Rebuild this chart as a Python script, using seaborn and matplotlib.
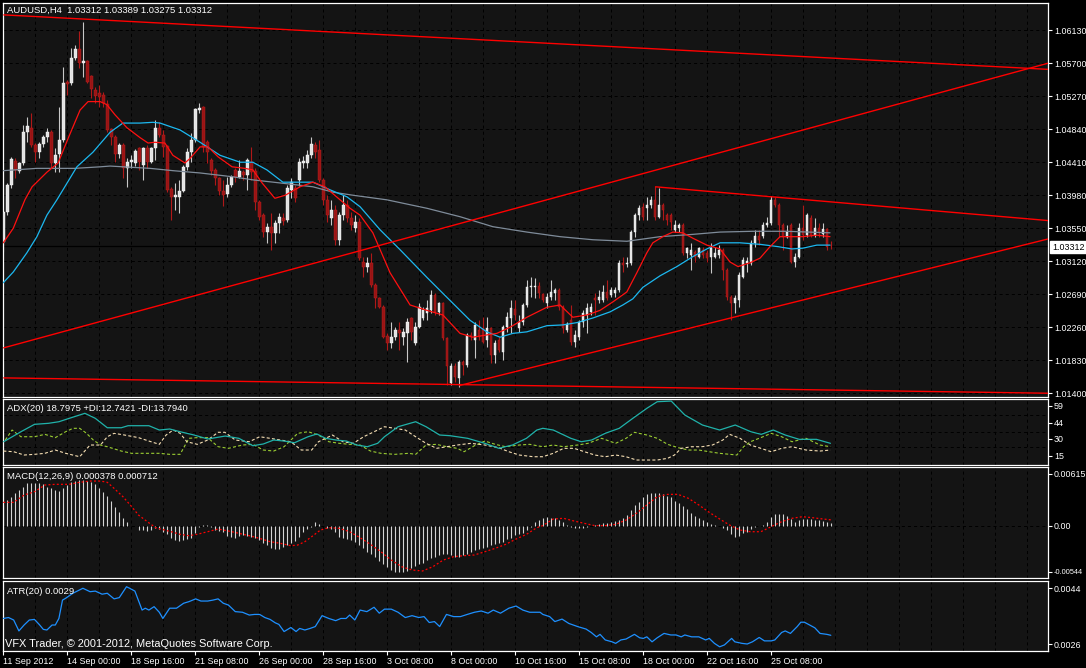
import numpy as np
import matplotlib
matplotlib.use("Agg")
import matplotlib.pyplot as plt
import seaborn as sns

# ── Data (bar 0 = 11 Sep 2012 08:00) ─────────────────────────────────────────
opens = [
    1.0337, 1.0376, 1.0411, 1.0443, 1.0430, 1.0440, 1.0480, 1.0486, 1.0463, 1.0454,
    1.0465, 1.0474, 1.0480, 1.0440, 1.0452, 1.0470, 1.0546, 1.0544, 1.0577, 1.0589,
    1.0570, 1.0573, 1.0553, 1.0535, 1.0531, 1.0529, 1.0517, 1.0484, 1.0474, 1.0452,
    1.0463, 1.0433, 1.0441, 1.0440, 1.0460, 1.0437, 1.0460, 1.0441, 1.0460, 1.0486,
    1.0476, 1.0462, 1.0406, 1.0396, 1.0396, 1.0404, 1.0435, 1.0454, 1.0470, 1.0509,
    1.0513, 1.0467, 1.0444, 1.0431, 1.0420, 1.0404, 1.0400, 1.0411, 1.0431, 1.0422,
    1.0428, 1.0424, 1.0441, 1.0430, 1.0389, 1.0372, 1.0350, 1.0357, 1.0349, 1.0362,
    1.0368, 1.0366, 1.0405, 1.0407, 1.0418, 1.0440, 1.0440, 1.0450, 1.0463, 1.0457,
    1.0418, 1.0392, 1.0368, 1.0379, 1.0340, 1.0372, 1.0385, 1.0368, 1.0355, 1.0363,
    1.0311, 1.0305, 1.0310, 1.0281, 1.0264, 1.0252, 1.0215, 1.0205, 1.0213, 1.0222,
    1.0213, 1.0218, 1.0238, 1.0205, 1.0226, 1.0238, 1.0245, 1.0248, 1.0268, 1.0246,
    1.0258, 1.0212, 1.0153, 1.0176, 1.0160, 1.0181, 1.0177, 1.0216, 1.0209, 1.0222,
    1.0225, 1.0209, 1.0225, 1.0190, 1.0209, 1.0194, 1.0226, 1.0238, 1.0250, 1.0225,
    1.0233, 1.0255, 1.0278, 1.0278, 1.0280, 1.0269, 1.0258, 1.0265, 1.0271, 1.0274,
    1.0252, 1.0222, 1.0235, 1.0207, 1.0213, 1.0233, 1.0242, 1.0246, 1.0264, 1.0262,
    1.0262, 1.0272, 1.0268, 1.0271, 1.0274, 1.0310, 1.0308, 1.0310, 1.0350, 1.0372,
    1.0383, 1.0381, 1.0385, 1.0392, 1.0370, 1.0385, 1.0372, 1.0372, 1.0353, 1.0355,
    1.0359, 1.0323, 1.0320, 1.0324, 1.0318, 1.0327, 1.0323, 1.0318, 1.0318, 1.0320,
    1.0327, 1.0301, 1.0265, 1.0258, 1.0262, 1.0292, 1.0310, 1.0310, 1.0336, 1.0345,
    1.0345, 1.0359, 1.0362, 1.0392, 1.0385, 1.0359, 1.0344, 1.0359, 1.0311, 1.0318,
    1.0355, 1.0346, 1.0368, 1.0346, 1.0355, 1.0347, 1.0354, 1.03312,
]
highs = [
    1.0379, 1.0414, 1.0448, 1.0446, 1.0441, 1.0490, 1.0500, 1.0505, 1.0466, 1.0467,
    1.0476, 1.0486, 1.0483, 1.0460, 1.0513, 1.0565, 1.0548, 1.0590, 1.0594, 1.0612,
    1.0624, 1.0574, 1.0555, 1.0539, 1.0542, 1.0532, 1.0522, 1.0486, 1.0476, 1.0466,
    1.0466, 1.0446, 1.0450, 1.0458, 1.0461, 1.0461, 1.0463, 1.0461, 1.0496, 1.0493,
    1.0483, 1.0463, 1.0409, 1.0414, 1.0418, 1.0437, 1.0460, 1.0479, 1.0512, 1.0518,
    1.0514, 1.0470, 1.0446, 1.0433, 1.0422, 1.0418, 1.0422, 1.0424, 1.0433, 1.0444,
    1.0431, 1.0446, 1.0461, 1.0433, 1.0392, 1.0375, 1.0362, 1.0375, 1.0366, 1.0375,
    1.0375, 1.0411, 1.0420, 1.0411, 1.0446, 1.0449, 1.0457, 1.0474, 1.0467, 1.0470,
    1.0420, 1.0398, 1.0392, 1.0385, 1.0376, 1.0398, 1.0392, 1.0376, 1.0372, 1.0368,
    1.0318, 1.0318, 1.0323, 1.0284, 1.0265, 1.0255, 1.0218, 1.0233, 1.0226, 1.0233,
    1.0225, 1.0238, 1.0239, 1.0233, 1.0258, 1.0252, 1.0262, 1.0274, 1.0271, 1.0259,
    1.0259, 1.0213, 1.0179, 1.0179, 1.0183, 1.0183, 1.0218, 1.0220, 1.0233, 1.0235,
    1.0239, 1.0239, 1.0226, 1.0209, 1.0213, 1.0229, 1.0246, 1.0262, 1.0262, 1.0242,
    1.0258, 1.0288, 1.0292, 1.0290, 1.0285, 1.0271, 1.0271, 1.0288, 1.0277, 1.0277,
    1.0255, 1.0233, 1.0255, 1.0222, 1.0235, 1.0248, 1.0258, 1.0258, 1.0271, 1.0274,
    1.0281, 1.0288, 1.0278, 1.0278, 1.0314, 1.0318, 1.0318, 1.0353, 1.0375, 1.0385,
    1.0388, 1.0396, 1.0397, 1.0410, 1.0407, 1.0388, 1.0375, 1.0375, 1.0366, 1.0362,
    1.0362, 1.0331, 1.0336, 1.0327, 1.0331, 1.0331, 1.0327, 1.0336, 1.0331, 1.0333,
    1.0329, 1.0303, 1.0268, 1.0268, 1.0298, 1.0318, 1.0318, 1.0340, 1.0353, 1.0353,
    1.0363, 1.0370, 1.0397, 1.0396, 1.0388, 1.0362, 1.0359, 1.0362, 1.0323, 1.0362,
    1.0385, 1.0375, 1.0372, 1.0368, 1.0362, 1.0362, 1.0355, 1.03389,
]
lows = [
    1.0324, 1.0372, 1.0407, 1.0420, 1.0427, 1.0437, 1.0467, 1.0461, 1.0441, 1.0446,
    1.0461, 1.0467, 1.0433, 1.0428, 1.0428, 1.0467, 1.0529, 1.0542, 1.0574, 1.0564,
    1.0552, 1.0544, 1.0525, 1.0518, 1.0513, 1.0513, 1.0480, 1.0463, 1.0441, 1.0446,
    1.0420, 1.0409, 1.0433, 1.0436, 1.0431, 1.0418, 1.0433, 1.0440, 1.0444, 1.0474,
    1.0448, 1.0402, 1.0366, 1.0379, 1.0375, 1.0402, 1.0431, 1.0441, 1.0467, 1.0505,
    1.0454, 1.0440, 1.0424, 1.0411, 1.0398, 1.0384, 1.0396, 1.0409, 1.0415, 1.0420,
    1.0418, 1.0405, 1.0418, 1.0379, 1.0366, 1.0344, 1.0336, 1.0327, 1.0336, 1.0349,
    1.0359, 1.0363, 1.0394, 1.0389, 1.0410, 1.0433, 1.0433, 1.0446, 1.0446, 1.0415,
    1.0385, 1.0363, 1.0359, 1.0333, 1.0333, 1.0366, 1.0363, 1.0353, 1.0350, 1.0314,
    1.0292, 1.0298, 1.0278, 1.0251, 1.0251, 1.0212, 1.0196, 1.0199, 1.0209, 1.0196,
    1.0203, 1.0181, 1.0209, 1.0203, 1.0225, 1.0235, 1.0235, 1.0245, 1.0242, 1.0242,
    1.0209, 1.0151, 1.0151, 1.0155, 1.0148, 1.0164, 1.0174, 1.0209, 1.0186, 1.0209,
    1.0205, 1.0200, 1.0179, 1.0179, 1.0194, 1.0183, 1.0220, 1.0218, 1.0235, 1.0220,
    1.0229, 1.0252, 1.0265, 1.0264, 1.0264, 1.0259, 1.0251, 1.0262, 1.0262, 1.0248,
    1.0218, 1.0220, 1.0203, 1.0200, 1.0209, 1.0226, 1.0218, 1.0242, 1.0242, 1.0258,
    1.0259, 1.0262, 1.0265, 1.0265, 1.0272, 1.0298, 1.0305, 1.0307, 1.0344, 1.0366,
    1.0366, 1.0366, 1.0381, 1.0366, 1.0368, 1.0366, 1.0359, 1.0353, 1.0350, 1.0350,
    1.0320, 1.0316, 1.0301, 1.0311, 1.0316, 1.0316, 1.0311, 1.0297, 1.0316, 1.0316,
    1.0288, 1.0262, 1.0235, 1.0245, 1.0252, 1.0290, 1.0298, 1.0307, 1.0331, 1.0333,
    1.0342, 1.0357, 1.0359, 1.0383, 1.0344, 1.0327, 1.0342, 1.0310, 1.0305, 1.0316,
    1.0340, 1.0344, 1.0344, 1.0344, 1.0344, 1.0344, 1.0327, 1.03275,
]
closes = [
    1.0376, 1.0411, 1.0445, 1.0431, 1.0440, 1.0480, 1.0488, 1.0463, 1.0454, 1.0465,
    1.0474, 1.0480, 1.0440, 1.0450, 1.0470, 1.0544, 1.0543, 1.0577, 1.0589, 1.0570,
    1.0573, 1.0546, 1.0536, 1.0527, 1.0526, 1.0518, 1.0483, 1.0474, 1.0452, 1.0463,
    1.0433, 1.0441, 1.0444, 1.0456, 1.0441, 1.0460, 1.0441, 1.0460, 1.0486, 1.0476,
    1.0461, 1.0405, 1.0396, 1.0398, 1.0404, 1.0435, 1.0454, 1.0470, 1.0510, 1.0512,
    1.0461, 1.0454, 1.0430, 1.0420, 1.0404, 1.0398, 1.0411, 1.0422, 1.0422, 1.0430,
    1.0424, 1.0444, 1.0428, 1.0389, 1.0370, 1.0350, 1.0357, 1.0349, 1.0362, 1.0370,
    1.0364, 1.0407, 1.0415, 1.0394, 1.0441, 1.0443, 1.0450, 1.0465, 1.0454, 1.0418,
    1.0392, 1.0372, 1.0379, 1.0340, 1.0372, 1.0385, 1.0368, 1.0359, 1.0363, 1.0316,
    1.0305, 1.0310, 1.0281, 1.0264, 1.0252, 1.0213, 1.0205, 1.0213, 1.0222, 1.0218,
    1.0220, 1.0233, 1.0220, 1.0226, 1.0252, 1.0248, 1.0251, 1.0268, 1.0246, 1.0258,
    1.0212, 1.0176, 1.0176, 1.0161, 1.0181, 1.0177, 1.0216, 1.0213, 1.0229, 1.0213,
    1.0207, 1.0225, 1.0190, 1.0205, 1.0196, 1.0226, 1.0239, 1.0251, 1.0242, 1.0233,
    1.0255, 1.0278, 1.0280, 1.0280, 1.0271, 1.0262, 1.0265, 1.0272, 1.0274, 1.0252,
    1.0225, 1.0230, 1.0207, 1.0216, 1.0233, 1.0245, 1.0251, 1.0252, 1.0262, 1.0265,
    1.0272, 1.0264, 1.0274, 1.0274, 1.0310, 1.0307, 1.0310, 1.0350, 1.0372, 1.0381,
    1.0370, 1.0385, 1.0392, 1.0370, 1.0385, 1.0379, 1.0366, 1.0363, 1.0359, 1.0359,
    1.0323, 1.0329, 1.0327, 1.0318, 1.0329, 1.0320, 1.0316, 1.0329, 1.0323, 1.0327,
    1.0301, 1.0265, 1.0258, 1.0264, 1.0294, 1.0314, 1.0312, 1.0336, 1.0345, 1.0340,
    1.0359, 1.0362, 1.0392, 1.0385, 1.0359, 1.0344, 1.0350, 1.0311, 1.0318, 1.0355,
    1.0346, 1.0372, 1.0346, 1.0355, 1.0349, 1.0354, 1.0331, 1.03312,
]

# moving averages (bar position, price)
ma_red_x = [0, 2.5, 5.4, 7.2, 10.9, 13.7, 16.2, 19.2, 21.2, 24.2, 25.9, 27.9, 30.9, 34.2,
            36.2, 37.9, 40.4, 42.4, 45.4, 46.7, 49.2, 51.2, 53.7, 57.2, 60.4, 62.4, 64.7,
            67.9, 70.5, 74.2, 77.4, 80.4, 84.2, 86.7, 89.2, 92.4, 96.7, 101.7, 105.9, 109.9,
            114.2, 117.4, 120.9, 123.4, 126.7, 130.9, 135.9, 139.2, 142.4, 145.9, 149.2,
            152.4, 155.9, 158.4, 160.9, 162.4, 164.9, 167.4, 169.9, 172.4, 175.9, 179.2,
            181.7, 183.7, 186.7, 189.2, 191.7, 194.2, 197.4, 199.9, 203.4, 206.7]
ma_red = [1.0336, 1.0355, 1.0392, 1.0409, 1.0428, 1.0440, 1.0472, 1.0509, 1.0520, 1.0520,
          1.0516, 1.0503, 1.0486, 1.0473, 1.0466, 1.0467, 1.0466, 1.0450, 1.0440, 1.0446,
          1.0461, 1.0461, 1.0448, 1.0435, 1.0433, 1.0431, 1.0414, 1.0394, 1.0398, 1.0409,
          1.0415, 1.0409, 1.0392, 1.0381, 1.0372, 1.0349, 1.0297, 1.0255, 1.0248, 1.0242,
          1.0218, 1.0213, 1.0216, 1.0218, 1.0226, 1.0239, 1.0252, 1.0255, 1.0239, 1.0242,
          1.0248, 1.0259, 1.0272, 1.0297, 1.0323, 1.0336, 1.0344, 1.0350, 1.0349, 1.0342,
          1.0333, 1.0328, 1.0311, 1.0305, 1.0310, 1.0316, 1.0331, 1.0344, 1.0344, 1.0344,
          1.0346, 1.0344]
ma_blue_x = [0, 2.5, 5.9, 8.4, 10.9, 13.4, 18.4, 22.4, 26.7, 29.9, 34.2, 37.4, 39.2, 44.2,
             49.2, 54.2, 59.2, 62.4, 65.9, 69.9, 74.2, 77.4, 81.7, 85.9, 89.2, 94.2, 99.2,
             105.9, 110.9, 116.7, 120.9, 124.2, 127.4, 130.9, 135.9, 139.9, 143.4, 147.4,
             151.7, 154.9, 157.4, 159.9, 164.2, 168.4, 172.4, 175.9, 179.2, 184.2, 189.2,
             193.7, 197.2, 199.9, 203.4, 206.7]
ma_blue = [1.0284, 1.0298, 1.0323, 1.0344, 1.0372, 1.0392, 1.0435, 1.0454, 1.0480, 1.0492,
           1.0492, 1.0493, 1.0492, 1.0483, 1.0467, 1.0450, 1.0441, 1.0441, 1.0431, 1.0415,
           1.0415, 1.0415, 1.0405, 1.0396, 1.0383, 1.0353, 1.0327, 1.0291, 1.0265, 1.0235,
           1.0220, 1.0213, 1.0218, 1.0220, 1.0228, 1.0229, 1.0232, 1.0238, 1.0246, 1.0255,
           1.0263, 1.0278, 1.0293, 1.0305, 1.0318, 1.0328, 1.0336, 1.0336, 1.0334, 1.0331,
           1.0328, 1.0329, 1.0333, 1.0333]
ma_gray_x = [0, 8.4, 17.9, 24.2, 26.7, 36.7, 42.4, 49.2, 57.4, 62.4, 69.2, 77.4, 82.4, 87.4,
             95.9, 105.9, 114.2, 122.4, 130.9, 139.2, 147.4, 155.9, 164.2, 172.4, 179.2,
             187.4, 195.9, 206.7]
ma_gray = [1.0430, 1.0433, 1.0433, 1.0435, 1.0436, 1.0433, 1.0430, 1.0427, 1.0422, 1.0418,
           1.0414, 1.0409, 1.0402, 1.0398, 1.0392, 1.0381, 1.0370, 1.0357, 1.0350, 1.0344,
           1.0340, 1.0338, 1.0344, 1.0347, 1.0350, 1.0351, 1.0351, 1.0349]

# trend lines: (bar, price) anchors
trend_top = ([0, 261.2], [1.0633, 1.0562])
trend_rise = ([0, 261.2], [1.0199, 1.0570])
trend_floor = ([0, 261.2], [1.0160, 1.0140])
channel_low = ([114, 261.2], [1.0150, 1.0341])
channel_high = ([163, 261.2], [1.0409, 1.0365])
bid = 1.03312

# ADX(20)
adx_x = [0.1, 4.4, 7.8, 11.3, 13.9, 16.5, 20.4, 23.0, 26.0, 29.5, 31.2, 36.4, 39.0, 41.6,
         44.2, 47.7, 51.1, 55.5, 58.9, 62.4, 65.0, 67.6, 70.2, 72.8, 76.2, 78.4, 80.6, 83.2,
         85.8, 88.4, 91.0, 93.6, 95.3, 98.7, 103.1, 105.7, 109.1, 111.7, 116.1, 120.4,
         123.9, 127.3, 130.8, 133.4, 134.9, 137.5, 141.9, 144.5, 147.1, 150.5, 154.0,
         157.4, 160.9, 163.5, 167.0, 170.4, 174.8, 179.1, 183.0, 186.9, 189.5, 192.5,
         195.5, 199.0, 203.3, 206.8]
adx_main = [27.3, 36.1, 42.6, 43.5, 44.9, 47.9, 52.3, 47.9, 39.6, 39.6, 41.4, 41.4, 37.6,
            38.5, 36.1, 33.2, 29.7, 32.3, 30.3, 23.8, 25.3, 28.8, 27.9, 26.4, 31.7, 34.1,
            30.3, 28.8, 27.9, 24.4, 22.9, 25.9, 31.7, 40.5, 44.9, 40.5, 33.2, 32.6, 30.3,
            25.9, 21.5, 24.4, 30.3, 37.6, 39.1, 37.6, 30.3, 27.3, 28.8, 34.7, 39.1, 47.9,
            56.7, 62.5, 63.1, 50.8, 42.0, 37.6, 42.0, 36.1, 33.8, 37.6, 33.2, 29.4, 29.4, 25.9]
pdi_x = [0.5, 2.2, 4.4, 7.8, 10.4, 13.0, 15.6, 17.4, 19.1, 20.8, 22.5, 24.3, 26.0, 29.5,
         32.1, 35.5, 39.0, 41.6, 44.2, 46.4, 48.5, 51.1, 53.7, 56.3, 59.8, 62.4, 65.0, 67.6,
         70.2, 73.6, 76.2, 78.8, 81.4, 84.0, 86.6, 89.2, 91.8, 94.4, 97.9, 101.3, 103.1,
         105.7, 108.3, 110.9, 113.5, 115.2, 117.8, 120.4, 123.0, 125.6, 129.0, 131.6, 134.9,
         137.5, 140.1, 143.6, 146.2, 149.6, 153.1, 155.7, 157.8, 160.9, 163.5, 166.1, 168.7,
         171.3, 173.9, 176.5, 179.1, 183.4, 185.1, 186.8, 189.4, 192.0, 194.6, 197.2, 200.7,
         204.2, 206.8]
pdi = [28.8, 37.6, 31.7, 31.7, 33.8, 30.9, 36.1, 39.1, 39.1, 34.7, 28.8, 24.4, 22.9, 19.1,
       17.1, 17.1, 17.1, 16.2, 16.2, 30.3, 30.9, 30.9, 22.9, 21.5, 24.4, 25.0, 20.0, 19.1,
       22.9, 34.7, 36.1, 33.2, 27.3, 25.9, 25.0, 24.4, 19.1, 17.1, 16.2, 17.1, 16.2, 24.4,
       25.0, 22.9, 21.5, 18.5, 23.8, 27.9, 25.0, 22.9, 24.4, 25.0, 22.9, 24.4, 22.9, 24.4,
       25.9, 30.3, 25.9, 30.3, 35.6, 33.2, 30.3, 25.0, 22.1, 20.0, 20.0, 18.5, 17.1, 15.6,
       22.9, 27.3, 30.9, 34.7, 31.7, 27.3, 30.3, 24.4, 22.9]
mdi_x = [0.0, 2.6, 5.2, 7.8, 10.4, 13.0, 15.6, 19.1, 21.7, 24.3, 26.0, 27.7, 30.3, 33.8,
         36.4, 39.0, 40.7, 42.5, 44.2, 45.9, 48.5, 51.1, 53.7, 55.4, 58.0, 61.5, 64.1, 66.7,
         69.3, 71.9, 74.5, 77.1, 78.8, 80.6, 82.3, 84.9, 87.5, 90.1, 92.7, 95.3, 97.9, 100.5,
         103.1, 105.7, 108.3, 110.9, 113.5, 116.9, 120.4, 123.8, 126.4, 129.0, 132.5, 134.9,
         137.5, 140.1, 142.7, 145.3, 147.9, 150.5, 153.1, 155.7, 158.3, 160.9, 163.5, 166.1,
         167.8, 169.5, 172.1, 174.7, 177.3, 179.9, 181.6, 184.2, 186.8, 189.4, 192.0, 194.6,
         197.2, 200.7, 204.2, 206.8]
mdi = [19.1, 18.5, 15.6, 16.2, 17.1, 20.0, 17.1, 14.1, 24.4, 24.4, 31.7, 34.7, 33.2, 30.9,
       27.9, 25.0, 33.2, 37.6, 34.7, 27.3, 25.0, 28.8, 35.6, 35.6, 28.8, 27.3, 31.7, 30.3,
       28.8, 27.3, 20.0, 20.0, 27.3, 30.3, 33.2, 27.3, 25.9, 31.7, 36.1, 40.5, 39.1, 37.6,
       31.7, 25.9, 21.5, 22.9, 24.4, 25.9, 24.4, 22.1, 18.5, 15.6, 14.1, 14.1, 17.1, 21.5,
       21.5, 18.5, 15.6, 14.1, 15.6, 14.1, 11.2, 11.2, 11.2, 12.7, 15.6, 21.5, 22.9, 22.9,
       24.4, 28.8, 33.8, 30.3, 24.4, 21.5, 18.5, 21.5, 22.9, 20.0, 19.1, 20.0]
adx_levels = [22.3, 36.1, 50.8]

# MACD(12,26,9), in units of 1e-4
macd_hist = [
    24.7, 30.6, 34.6, 38.5, 42.5, 46.5, 50.4, 51.2, 51.2, 50.4,
    49.2, 46.5, 44.4, 42.5, 41.3, 44.4, 48.4, 51.6, 53.2, 54.3,
    54.3, 53.2, 51.6, 49.2, 44.4, 40.5, 35.3, 29.4, 22.7, 16.8,
    9.6, 4.1, 0.2, 0.2, -5.0, -5.4, -6.2, -5.0, -3.0, -4.2,
    -7.1, -10.1, -14.1, -16.8, -18.0, -16.8, -15.7, -14.1, -8.9, -1.0,
    0.9, 0.6, -1.0, -5.0, -6.2, -7.7, -11.7, -13.3, -14.1, -11.7,
    -10.9, -12.5, -13.3, -14.1, -16.8, -20.8, -22.8, -25.9, -27.5, -27.5,
    -25.5, -22.8, -20.0, -18.0, -12.9, -7.7, -4.2, -1.4, 4.1, 2.5,
    -0.6, -2.2, -3.8, -7.7, -12.9, -14.1, -15.3, -17.2, -19.6, -22.8,
    -26.7, -30.7, -33.8, -37.4, -41.8, -45.7, -49.3, -52.4, -54.4, -55.2,
    -54.8, -53.2, -50.5, -47.3, -45.0, -43.8, -40.6, -38.6, -36.6, -34.6,
    -33.8, -33.8, -35.0, -36.6, -36.6, -34.6, -33.1, -30.7, -29.1, -27.5,
    -25.9, -24.8, -22.8, -21.6, -20.0, -18.8, -16.1, -14.1, -11.3, -10.1,
    -8.1, -5.0, -1.4, 4.1, 7.3, 8.9, 10.4, 9.6, 8.9, 7.3,
    4.9, 0.9, -1.8, -3.0, -3.0, -2.6, -1.0, 0.2, 0.9, 2.1,
    2.9, 3.7, 4.5, 5.7, 7.3, 8.9, 12.8, 18.7, 24.7, 28.6,
    34.6, 37.3, 38.5, 38.9, 38.5, 37.3, 35.7, 33.8, 29.4, 26.7,
    23.9, 19.5, 14.8, 12.0, 8.9, 6.5, 4.1, 2.5, 0.9, 0.2,
    -2.2, -5.0, -10.1, -12.9, -11.7, -8.9, -7.7, -3.8, -1.4, -0.2,
    0.9, 4.1, 10.8, 13.6, 14.0, 13.6, 12.0, 8.1, 4.9, 6.5,
    7.7, 8.1, 8.1, 7.3, 6.5, 5.7, 4.1, 3.8,
]
signal_x = [0.0, 2.6, 5.2, 7.8, 10.4, 13.0, 16.5, 19.1, 21.7, 24.3, 26.0, 27.7, 29.9, 32.1,
            33.8, 36.0, 38.1, 40.3, 42.5, 44.2, 46.4, 48.5, 51.1, 53.7, 56.3, 58.9, 61.5,
            64.1, 66.7, 69.3, 71.9, 73.6, 75.4, 77.1, 79.3, 81.4, 84.0, 86.6, 89.2, 91.8,
            94.4, 97.0, 99.6, 102.2, 104.8, 107.4, 110.0, 112.6, 115.2, 117.8, 120.4, 123.0,
            125.6, 128.2, 130.8, 133.4, 134.9, 137.5, 140.1, 142.7, 145.3, 147.9, 150.5,
            153.1, 155.7, 158.3, 160.9, 163.5, 166.1, 168.7, 171.3, 173.9, 176.5, 179.1,
            181.6, 184.2, 186.8, 189.4, 192.0, 194.6, 197.2, 199.8, 202.4, 204.9, 206.9]
signal = [27.8, 27.8, 36.5, 40.5, 48.4, 49.2, 49.2, 51.6, 53.1, 53.1, 51.6, 44.4, 34.6, 22.7,
          12.8, 4.9, -2.2, -5.0, -7.7, -10.1, -11.7, -10.1, -7.0, -3.8, -6.2, -8.9, -11.7,
          -14.9, -18.8, -20.8, -23.6, -22.8, -18.8, -12.9, -5.0, -2.2, -3.0, -7.0, -14.1,
          -22.0, -30.7, -40.6, -48.5, -52.4, -53.6, -48.5, -40.6, -36.6, -35.4, -34.6,
          -30.7, -26.7, -22.0, -15.7, -10.1, -2.2, 0.2, 8.1, 8.9, 5.7, 2.9, 0.2, 0.2, 1.7,
          6.9, 14.8, 24.7, 34.6, 37.3, 37.3, 32.6, 24.7, 16.0, 8.1, 0.9, -5.0, -7.0, -7.0,
          -1.0, 4.9, 8.9, 10.8, 9.6, 8.1, 7.1]

# ATR(20), in units of 1e-4
atr_x = [0.0, 1.3, 2.6, 3.9, 5.2, 6.5, 7.8, 9.1, 10.0, 10.9, 12.2, 13.0, 13.9, 14.8, 15.6,
         17.4, 19.9, 21.7, 23.0, 24.7, 26.0, 27.7, 29.0, 30.8, 31.6, 32.9, 34.7, 35.5, 36.4,
         37.7, 39.0, 39.9, 41.6, 43.3, 45.1, 46.4, 48.1, 49.4, 51.1, 52.4, 53.7, 55.0, 56.3,
         58.0, 59.8, 61.5, 62.8, 64.1, 65.4, 66.7, 68.0, 68.9, 70.2, 71.9, 73.2, 74.1, 75.4,
         76.7, 78.0, 79.7, 81.4, 83.1, 84.4, 85.7, 86.6, 87.9, 89.2, 90.9, 92.7, 94.0, 95.3,
         97.0, 98.7, 100.5, 102.2, 103.9, 105.2, 106.5, 107.8, 109.1, 110.8, 112.6, 114.3,
         116.0, 117.8, 119.5, 121.2, 122.5, 124.3, 126.4, 128.2, 129.9, 131.6, 134.2,
         134.9, 136.6, 137.9, 139.7, 141.4, 143.6, 145.7, 147.0, 148.3, 149.2, 150.5, 152.2,
         153.1, 154.4, 155.7, 157.8, 159.1, 160.0, 160.9, 162.2, 163.5, 165.2, 166.9, 168.2,
         169.5, 170.4, 172.1, 173.9, 175.6, 176.5, 177.8, 179.1, 180.3, 182.1, 182.9, 184.7,
         186.0, 187.3, 189.0, 190.3, 192.0, 192.9, 194.6, 195.5, 196.8, 198.5, 199.4, 200.3,
         201.6, 202.9, 204.2, 205.9, 206.9]
atr = [34.3, 34.6, 33.8, 30.3, 32.2, 33.8, 34.0, 32.2, 30.8, 30.6, 32.2, 32.2, 34.3, 40.2,
       40.8, 42.4, 44.0, 42.9, 43.1, 42.1, 42.4, 40.6, 41.0, 44.5, 44.0, 43.1, 37.0, 37.6,
       37.0, 38.1, 36.3, 34.3, 37.6, 37.6, 39.2, 39.7, 40.6, 39.9, 39.9, 40.2, 40.6, 39.2,
       38.6, 36.5, 36.3, 35.4, 35.6, 35.6, 34.6, 34.0, 32.9, 32.4, 30.1, 31.4, 30.1, 31.1,
       30.6, 31.1, 31.7, 35.2, 34.3, 33.6, 34.3, 34.3, 35.4, 33.8, 37.0, 36.5, 37.9, 36.0,
       37.3, 37.3, 36.3, 34.6, 35.2, 34.6, 34.9, 33.0, 33.3, 31.7, 35.6, 34.9, 34.9, 35.6,
       36.3, 36.7, 36.0, 37.0, 36.0, 37.6, 38.3, 37.0, 36.3, 36.3,
       35.6, 34.9, 33.3, 34.1, 32.7, 31.7, 30.9, 29.8, 28.4, 29.2, 27.4, 26.8, 26.3, 27.4,
       27.7, 29.2, 28.1, 27.9, 28.4, 26.8, 28.1, 29.5, 29.0, 29.0, 28.4, 29.0, 28.4, 28.4,
       27.4, 27.9, 26.3, 25.2, 25.8, 27.9, 26.8, 26.3, 26.1, 26.8, 28.2, 27.1, 27.1, 27.4,
       29.8, 30.3, 29.5, 31.7, 33.1, 33.1, 32.2, 31.3, 29.5, 29.2, 28.9]

# axis labels
price_ticks = [1.0140, 1.0183, 1.0226, 1.0269, 1.0312, 1.0355, 1.0398, 1.0441, 1.0484,
               1.0527, 1.0570, 1.0613]
adx_ticks = [15, 30, 44, 59]
macd_ticks = [-0.00544, 0.0, 0.00615]
macd_tick_labels = ["-0.00544", "0.00", "0.00615"]
atr_ticks = [0.0026, 0.0044]
time_ticks = [0, 16, 32, 48, 64, 80, 96, 112, 128, 144, 160, 176, 192]
time_labels = ["11 Sep 2012", "14 Sep 00:00", "18 Sep 16:00", "21 Sep 08:00",
               "26 Sep 00:00", "28 Sep 16:00", "3 Oct 08:00", "8 Oct 00:00",
               "10 Oct 16:00", "15 Oct 08:00", "18 Oct 00:00", "22 Oct 16:00",
               "25 Oct 08:00"]

# ── Style ─────────────────────────────────────────────────────────────────────
sns.set_style("dark")
plt.rcParams["font.family"] = ["Liberation Sans", "DejaVu Sans"]
plt.rcParams["lines.scale_dashes"] = False

W, H = 1086, 668
PANEL = "#141414"
GRID = dict(color="black", lw=0.7, ls=(0, (2.2, 2.2)), zorder=0.5)
XMIN, XMAX = -0.2, 261.2
FS = 6.8      # panel captions
FS_AX = 6.4   # right-hand scale

fig = plt.figure(figsize=(W / 100, H / 100), dpi=100, facecolor="black")


def rect(x0, y0, x1, y1):
    return [x0 / W, 1 - y1 / H, (x1 - x0) / W, (y1 - y0) / H]


ax_main = fig.add_axes(rect(2.5, 2.5, 1048, 397))
ax_adx = fig.add_axes(rect(2.5, 399, 1048, 464.5))
ax_macd = fig.add_axes(rect(2.5, 466.5, 1048, 578))
ax_atr = fig.add_axes(rect(2.5, 581, 1048, 651))
panels = [ax_main, ax_adx, ax_macd, ax_atr]

for ax in panels:
    ax.set_facecolor(PANEL)
    ax.grid(False)
    for sp in ax.spines.values():
        sp.set_color("white")
        sp.set_linewidth(0.9)
    ax.yaxis.tick_right()
    ax.tick_params(axis="y", right=True, labelright=True, left=False, labelleft=False,
                   colors="white", labelcolor="white", length=3, width=0.8, pad=1.2,
                   labelsize=FS_AX, direction="out")
    ax.tick_params(axis="x", bottom=False, labelbottom=False)
    for gx in range(8, 261, 8):
        ax.axvline(gx, **GRID)

# ── Main price panel ──────────────────────────────────────────────────────────
x = np.arange(len(closes))
o, h, l, c = map(np.array, (opens, highs, lows, closes))
bull = c > o
bear = ~bull
lo = np.minimum(o, c)
body = np.maximum(np.abs(c - o), 0.00004)

for p in price_ticks:
    ax_main.axhline(p, **GRID)
ax_main.axhline(bid, color="black", lw=0.9, zorder=1.8)

ax_main.vlines(x[bull], l[bull], h[bull], color="#C8C8C8", lw=0.8, zorder=2)
ax_main.vlines(x[bear], l[bear], h[bear], color="#B01818", lw=0.8, zorder=2)
ax_main.bar(x[bull], body[bull], bottom=lo[bull], width=0.62, color="#E2E2E2",
            edgecolor="#FFFFFF", linewidth=0.3, zorder=3)
ax_main.bar(x[bear], body[bear], bottom=lo[bear], width=0.62, color="#981414",
            edgecolor="#C01E1E", linewidth=0.3, zorder=3)

for mx, my, col in [(ma_gray_x, ma_gray, "#7F8C9A"), (ma_blue_x, ma_blue, "#1CB8F0"),
                    (ma_red_x, ma_red, "#FF1010")]:
    sns.lineplot(x=mx, y=my, ax=ax_main, color=col, lw=0.9, estimator=None, sort=False,
                 zorder=4)

for tx, ty in [trend_top, trend_rise, trend_floor, channel_low, channel_high]:
    ax_main.plot(tx, ty, color="#FF0000", lw=1.0, zorder=5, solid_capstyle="butt")

ax_main.set_yticks(price_ticks)
ax_main.set_yticklabels([f"{p:.5f}" for p in price_ticks])
ax_main.set_ylim(1.01351, 1.06491)

# ── ADX panel ─────────────────────────────────────────────────────────────────
for lv in adx_levels:
    ax_adx.axhline(lv, **GRID)
sns.lineplot(x=adx_x, y=adx_main, ax=ax_adx, color="#20B2AA", lw=0.9,
             estimator=None, sort=False, zorder=4)
sns.lineplot(x=pdi_x, y=pdi, ax=ax_adx, color="#9ACD32", lw=0.8,
             linestyle=(0, (2.2, 1.6)), estimator=None, sort=False, zorder=3)
sns.lineplot(x=mdi_x, y=mdi, ax=ax_adx, color="#F5DEB3", lw=0.8,
             linestyle=(0, (2.2, 1.6)), estimator=None, sort=False, zorder=3)
ax_adx.set_yticks(adx_ticks)
ax_adx.set_yticklabels([str(t) for t in adx_ticks])
ax_adx.set_ylim(7.26, 64.9)

# ── MACD panel ────────────────────────────────────────────────────────────────
ax_macd.axhline(0, **GRID)
hist = np.array(macd_hist) * 1e-4
ax_macd.vlines(x, 0, hist, color="#D4D4D4", lw=0.8, zorder=2)
sns.lineplot(x=signal_x, y=np.array(signal) * 1e-4, ax=ax_macd, color="#FF0000", lw=0.9,
             linestyle=(0, (1.4, 1.6)), estimator=None, sort=False, zorder=3)
ax_macd.set_yticks(macd_ticks)
ax_macd.set_yticklabels(macd_tick_labels)
ax_macd.set_ylim(-0.00619, 0.007035)
# the long negative label is squeezed so it stays inside the picture
ax_macd.get_yticklabels()[0].set_fontsize(5.3)

# ── ATR panel ─────────────────────────────────────────────────────────────────
sns.lineplot(x=atr_x, y=np.array(atr) * 1e-4, ax=ax_atr, color="#1E90FF", lw=0.9,
             estimator=None, sort=False, zorder=3)
ax_atr.set_yticks(atr_ticks)
ax_atr.set_yticklabels([f"{t:.4f}" for t in atr_ticks])
ax_atr.set_ylim(0.002385, 0.004634)
ax_atr.set_xticks(time_ticks)
ax_atr.set_xticklabels(time_labels)
ax_atr.tick_params(axis="x", bottom=True, labelbottom=True, colors="white",
                   labelcolor="white", length=3, width=0.8, pad=1.5, labelsize=6.4,
                   direction="out")
for t in ax_atr.get_xticklabels():
    t.set_ha("left")

for ax in panels:
    ax.set_xlim(XMIN, XMAX)
    ax.set_xlabel("")
    ax.set_ylabel("")

# ── Texts ─────────────────────────────────────────────────────────────────────
txt = dict(color="white", fontsize=FS, va="center", ha="left", zorder=10)
fig.text(7 / W, 1 - 10.8 / H, "AUDUSD,H4  1.03312 1.03389 1.03275 1.03312", **txt)
fig.text(7 / W, 1 - 408.7 / H, "ADX(20) 18.7975 +DI:12.7421 -DI:13.7940", **txt)
fig.text(7 / W, 1 - 476.7 / H, "MACD(12,26,9) 0.000378 0.000712", **txt)
fig.text(7 / W, 1 - 591.7 / H, "ATR(20) 0.0029", **txt)
fig.text(5 / W, 1 - 644 / H, "VFX Trader, \u00a9 2001-2012, MetaQuotes Software Corp.",
         color="white", fontsize=7.9, va="center", ha="left", zorder=10)
fig.text(1052 / W, 1 - 247 / H, "1.03312", color="black", fontsize=FS_AX, va="center",
         ha="left", zorder=11,
         bbox=dict(boxstyle="square,pad=0.22", fc="white", ec="white"))

fig.savefig("out.png", dpi=100, facecolor="black")
